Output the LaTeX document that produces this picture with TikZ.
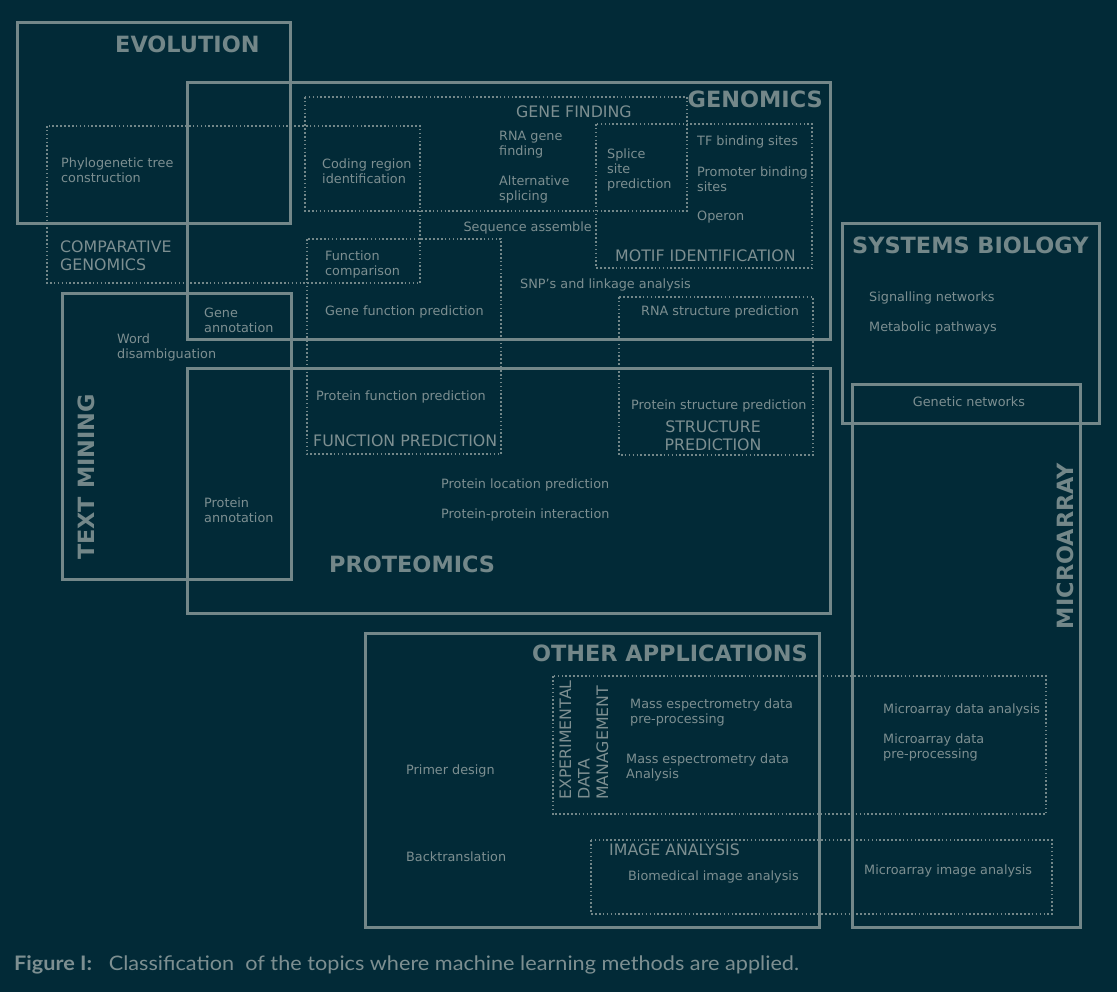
\documentclass[tikz,border=0pt]{standalone}
\usepackage{fontspec}
\setmainfont{DejaVu Sans}
\newfontfamily\capfont{Lato}
\definecolor{bgc}{HTML}{022A37}
\definecolor{linec}{HTML}{738789}
\definecolor{txtc}{HTML}{7D8F91}
\tikzset{
  solidbox/.style={draw=linec, line width=3pt},
  dotbox/.style={draw=linec, line width=1.6pt, dash pattern=on 1.6pt off 2.3pt},
  small/.style={font=\fontsize{12.8}{15}\selectfont, text=txtc, inner sep=0pt, align=left},
  head/.style={font=\fontsize{22.4}{25}\selectfont\bfseries, text=linec, inner sep=0pt},
  sub/.style={font=\fontsize{15.8}{18.5}\selectfont, text=txtc, inner sep=0pt, align=left},
}
\begin{document}
\begin{tikzpicture}[x=1pt,y=-1pt]
\fill[bgc] (0,0) rectangle (1117,992);
\useasboundingbox (0,0) rectangle (1117,992);
% solid boxes
\draw[solidbox] (17,23) rectangle (290,224);   % evolution
\draw[solidbox] (187,83) rectangle (830,340);  % genomics
\draw[solidbox] (62,294) rectangle (291,579);  % text mining
\draw[solidbox] (187,369) rectangle (830,613); % proteomics
\draw[solidbox] (842,224) rectangle (1099,423);% systems biology
\draw[solidbox] (852,385) rectangle (1080,927);% microarray
\draw[solidbox] (365,633) rectangle (819,927); % other applications
% dotted boxes
\draw[dotbox] (47,126) rectangle (420,283);    % comparative genomics
\draw[dotbox] (305,97) rectangle (687,211);    % gene finding
\draw[dotbox] (596,124) rectangle (812,268);   % motif identification
\draw[dotbox] (307,239) rectangle (501,454);   % function prediction
\draw[dotbox] (619,297) rectangle (813,455);   % structure prediction
\draw[dotbox] (553,676) rectangle (1046,814);  % experimental data management
\draw[dotbox] (591,840) rectangle (1052,914);  % image analysis
% headings
\node[head, anchor=west] (evo) at (115,44) {EVOLUTION};
\node[head, anchor=east] (gen) at (823,99) {GENOMICS};
\node[head, anchor=west] (prot) at (329,564) {PROTEOMICS};
\node[head, anchor=west] (sys) at (852,245) {SYSTEMS BIOLOGY};
\node[head, anchor=east] (oth) at (808,653) {OTHER APPLICATIONS};
\node[head, rotate=90] (tm) at (86,477) {TEXT MINING};
\node[head, rotate=90] (mic) at (1065,546) {MICROARRAY};
% sub-headings
\node[sub, anchor=west] (cg) at (60,256) {COMPARATIVE\\GENOMICS};
\node[sub, anchor=west] (gf) at (516,112) {GENE FINDING};
\node[sub, anchor=west] (mi) at (615,256) {MOTIF IDENTIFICATION};
\node[sub, anchor=west] (fp) at (313,441) {FUNCTION PREDICTION};
\node[sub, align=center] (sp) at (713,435.5) {STRUCTURE\\PREDICTION};
\node[sub, rotate=90, anchor=west] (edm) at (584,800) {EXPERIMENTAL\\DATA\\MANAGEMENT};
\node[sub, anchor=west] (ia) at (609,850) {IMAGE ANALYSIS};
% items
\node[small, anchor=west] (phy) at (61,170.5) {Phylogenetic tree\\construction};
\node[small, anchor=west] (cri) at (322,171.5) {Coding region\\identification};
\node[small, anchor=west] (rna) at (499,144.5) {RNA gene\\finding};
\node[small, anchor=west] (alt) at (499,189.5) {Alternative\\splicing};
\node[small, anchor=west] (spl) at (607,170) {Splice\\site\\prediction};
\node[small, anchor=west] (tf) at (697,142) {TF binding sites};
\node[small, anchor=west] (prom) at (697,179.5) {Promoter binding\\sites};
\node[small, anchor=west] (oper) at (697,217) {Operon};
\node[small, anchor=east] (seq) at (592,228) {Sequence assemble};
\node[small, anchor=west] (fc) at (325,264.5) {Function\\comparison};
\node[small, anchor=west] (snp) at (520,285) {SNP's and linkage analysis};
\node[small, anchor=west] (gfp) at (325,312) {Gene function prediction};
\node[small, anchor=west] (rsp) at (641,312) {RNA structure prediction};
\node[small, anchor=west] (ga) at (204,320.5) {Gene\\annotation};
\node[small, anchor=west] (wd) at (117,347.5) {Word\\disambiguation};
\node[small, anchor=west] (pfp) at (316,397) {Protein function prediction};
\node[small, anchor=west] (psp) at (631,406) {Protein structure prediction};
\node[small, anchor=west] (plp) at (441,485) {Protein location prediction};
\node[small, anchor=west] (ppi) at (441,515) {Protein-protein interaction};
\node[small, anchor=west] (pa) at (204,510.5) {Protein\\annotation};
\node[small, anchor=west] (sig) at (869,298) {Signalling networks};
\node[small, anchor=west] (met) at (869,328) {Metabolic pathways};
\node[small] (gn) at (969,402) {Genetic networks};
\node[small, anchor=west] (msp) at (630,712.5) {Mass espectrometry data\\pre-processing};
\node[small, anchor=west] (msa) at (626,767.5) {Mass espectrometry data\\Analysis};
\node[small, anchor=west] (mda) at (883,710) {Microarray data analysis};
\node[small, anchor=west] (mdp) at (883,747.5) {Microarray data\\pre-processing};
\node[small, anchor=west] (pd) at (406,771) {Primer design};
\node[small, anchor=west] (bt) at (406,857) {Backtranslation};
\node[small, anchor=west] (bia) at (628,877) {Biomedical image analysis};
\node[small, anchor=west] (mia) at (864,871) {Microarray image analysis};
% caption
\node[anchor=west, inner sep=0pt, text=txtc, font=\capfont\fontsize{20}{24}\selectfont] (cap) at (14,965) {\scalebox{1.083}[1]{\textbf{Figure I:}\ \ \ Classification\ \ of the topics where machine learning methods are applied.}};
\end{tikzpicture}
\end{document}
